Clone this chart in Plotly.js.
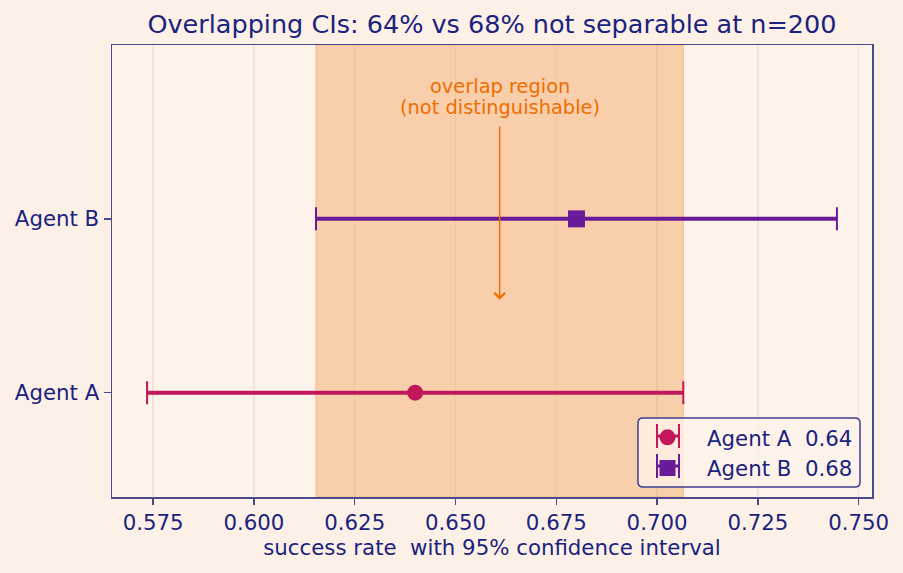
<!DOCTYPE html>
<html>
<head>
<meta charset="utf-8">
<script src="https://cdn.plot.ly/plotly-3.0.1.min.js"></script>
<style>
  html, body { margin: 0; padding: 0; background: #fdf1e7; }
  #chart { width: 903px; height: 573px; }
</style>
</head>
<body>
<div id="chart"></div>
<script>
// Success rates with 95% confidence intervals (n = 200)
const agents = ['Agent A', 'Agent B'];
const rates = [0.64, 0.68];
const ciLow = [0.5735, 0.6154];
const ciHigh = [0.7065, 0.7446];
const colors = ['#c2185b', '#6a1b9a'];
const symbols = ['circle', 'square'];
const markerSizes = [16, 17];
const xTicks = [0.575, 0.600, 0.625, 0.650, 0.675, 0.700, 0.725, 0.750];

const navy = '#1a237e';
const spine = '#4a4b8c';
const font = 'DejaVu Sans, Verdana, sans-serif';
const W = 903, H = 573;
const M = { l: 112, r: 31, t: 45, b: 76 };
const plotW = W - M.l - M.r, plotH = H - M.t - M.b;

// pixel position -> paper fraction
const px = v => (v - M.l) / plotW;
const py = v => (H - M.b - v) / plotH;

// Overlap of the two intervals
const overlapLo = Math.max(...ciLow);
const overlapHi = Math.min(...ciHigh);
const overlapMid = (overlapLo + overlapHi) / 2;

const traces = [];
agents.forEach((name, i) => {
  // thick interval line
  traces.push({
    type: 'scatter', mode: 'lines',
    x: [ciLow[i], ciHigh[i]], y: [i, i],
    line: { color: colors[i], width: 4 },
    hoverinfo: 'skip', showlegend: false
  });
  // point estimate with end caps
  traces.push({
    type: 'scatter', mode: 'markers',
    name: name + '\u00a0 ' + rates[i].toFixed(2),
    x: [rates[i]], y: [i],
    marker: { color: colors[i], symbol: symbols[i], size: markerSizes[i] },
    error_x: {
      type: 'data', symmetric: false,
      array: [ciHigh[i] - rates[i]],
      arrayminus: [rates[i] - ciLow[i]],
      color: colors[i], thickness: 2, width: 11.5
    }
  });
});

// Legend frame (rounded) and the error-bar caps next to each legend marker
const box = { x0: 638, x1: 860, y0: 418, y1: 487, r: 5 };
const rx = box.r / plotW, ry = box.r / plotH;
const bx0 = px(box.x0), bx1 = px(box.x1), byT = py(box.y0), byB = py(box.y1);
const framePath =
  `M${bx0 + rx},${byT} L${bx1 - rx},${byT} Q${bx1},${byT} ${bx1},${byT - ry} ` +
  `L${bx1},${byB + ry} Q${bx1},${byB} ${bx1 - rx},${byB} ` +
  `L${bx0 + rx},${byB} Q${bx0},${byB} ${bx0},${byB + ry} ` +
  `L${bx0},${byT - ry} Q${bx0},${byT} ${bx0 + rx},${byT} Z`;

const legendRows = [436, 466];
const iconX = 668, capHalf = 11, capLen = 12;

const shapes = [{
  type: 'rect', xref: 'x', yref: 'paper', layer: 'below',
  x0: overlapLo, x1: overlapHi, y0: 0, y1: 1,
  fillcolor: '#f9cfab', line: { color: '#f3b887', width: 1 }
}, {
  type: 'path', xref: 'paper', yref: 'paper', layer: 'above',
  path: framePath, fillcolor: 'rgba(254,243,234,0.8)',
  line: { color: '#3f3f8f', width: 1.5 }
}];
agents.forEach((_, i) => {
  const yc = legendRows[i];
  shapes.push({
    type: 'line', xref: 'paper', yref: 'paper', layer: 'above',
    x0: px(iconX - capHalf), x1: px(iconX + capHalf), y0: py(yc), y1: py(yc),
    line: { color: colors[i], width: 3 }
  });
  [-capHalf, capHalf].forEach(d => shapes.push({
    type: 'line', xref: 'paper', yref: 'paper', layer: 'above',
    x0: px(iconX + d), x1: px(iconX + d), y0: py(yc - capLen), y1: py(yc + capLen),
    line: { color: colors[i], width: 2 }
  }));
});

const layout = {
  width: W, height: H,
  margin: M,
  paper_bgcolor: '#fdf1e7',
  plot_bgcolor: '#fef3ea',
  font: { family: font, size: 21.3, color: navy },
  title: {
    text: 'Overlapping CIs: 64% vs 68% not separable at n=200',
    font: { family: font, size: 25.5, color: navy },
    x: 0.5, xref: 'paper', y: 1 - 24 / H, yref: 'container', yanchor: 'middle'
  },
  xaxis: {
    range: [0.5648, 0.7533],
    tickvals: xTicks, tickformat: '.3f',
    ticks: 'outside', ticklen: 6, tickwidth: 1.5, tickcolor: spine,
    showline: true, linecolor: spine, linewidth: 1.5, mirror: true,
    showgrid: true, gridcolor: 'rgba(190,140,100,0.16)', gridwidth: 1.5,
    zeroline: false,
    tickfont: { size: 21.3, color: navy },
    title: { text: 'success rate\u00a0 with 95% confidence interval', font: { size: 21.3, color: navy }, standoff: 6 }
  },
  yaxis: {
    range: [-0.6, 2.0],
    tickvals: agents.map((_, i) => i), ticktext: agents,
    ticks: 'outside', ticklen: 7, tickwidth: 1.5, tickcolor: spine,
    showline: true, linecolor: spine, linewidth: 1.5, mirror: true,
    showgrid: false, zeroline: false,
    tickfont: { size: 21.3, color: navy }
  },
  shapes: shapes,
  annotations: [
    {
      x: overlapMid, y: 0.534, xref: 'x', yref: 'y',
      ax: overlapMid, ay: 1.54, axref: 'x', ayref: 'y',
      text: '', showarrow: true, arrowhead: 4, arrowsize: 1.4, arrowwidth: 1.5,
      arrowcolor: '#ef6c00'
    },
    {
      x: overlapMid, y: 1.759, xref: 'x', yref: 'y',
      text: 'overlap region',
      showarrow: false, xanchor: 'center', yanchor: 'middle',
      font: { family: font, size: 19.4, color: '#ef6c00' }
    },
    {
      x: overlapMid, y: 1.638, xref: 'x', yref: 'y',
      text: '(not distinguishable)',
      showarrow: false, xanchor: 'center', yanchor: 'middle',
      font: { family: font, size: 19.4, color: '#ef6c00' }
    }
  ],
  legend: {
    x: px(628), y: py(417), xanchor: 'left', yanchor: 'top',
    bgcolor: 'rgba(0,0,0,0)', borderwidth: 0,
    font: { size: 21.3, color: navy }, itemsizing: 'trace',
    itemwidth: 69, tracegroupgap: 0
  },
  showlegend: true
};

Plotly.newPlot('chart', traces, layout, { displayModeBar: false, staticPlot: true });
</script>
</body>
</html>
